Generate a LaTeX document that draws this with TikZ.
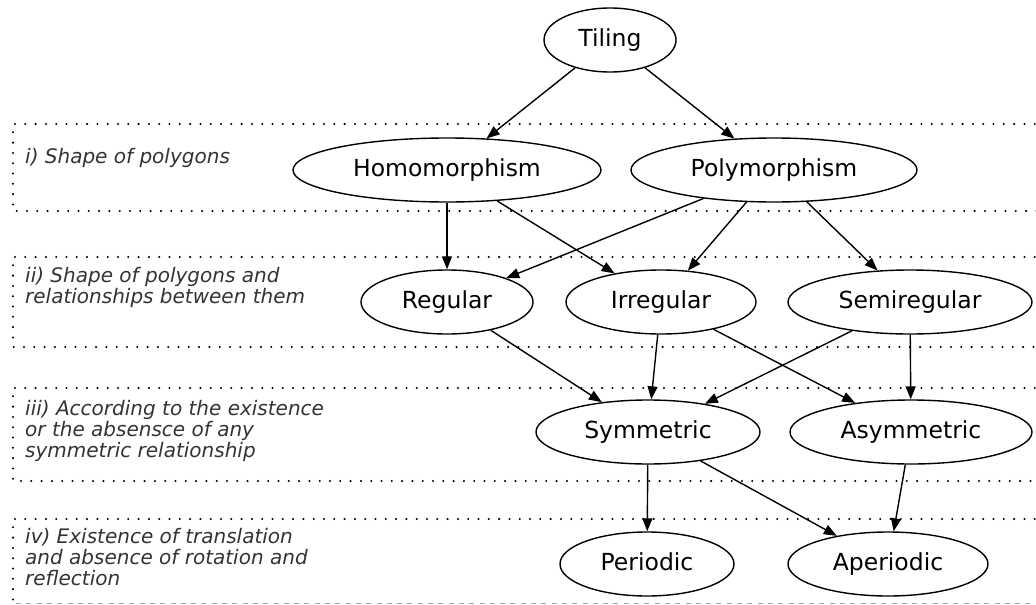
\documentclass[tikz,border=0pt]{standalone}
\usepackage{fontspec}
\setmainfont{DejaVu Sans}
\usetikzlibrary{shapes.geometric,arrows.meta}
\tikzset{
  tnode/.style={ellipse,draw,line width=1.4pt,inner sep=0pt,minimum height=64pt,
                text height=17pt,text depth=5pt,
                font=\fontsize{23.5}{28}\selectfont},
  tedge/.style={line width=1.4pt,-{Triangle[length=13pt,width=10pt]}},
  boxline/.style={line width=2.3pt,line cap=round,dash pattern=on 0pt off 10.3pt},
  boxlabel/.style={anchor=north west,inner sep=0pt,align=left,text=black!80,
                   font=\itshape\fontsize{20}{21}\selectfont}
}
\begin{document}
\begin{tikzpicture}[x=1pt,y=-1pt]
  \useasboundingbox (0,0) rectangle (1036,605);
  \foreach \t/\b in {124/211,257/347,388/481} {
    \draw[boxline] (1045,\t) -- (13,\t) -- (13,\b) -- (1045,\b);
  }
  \draw[boxline] (1045,519) -- (13,519) -- (13,603);
  \draw[gray!70,line width=1pt,dash pattern=on 5pt off 5.3pt] (16,603.5) -- (1045,603.5);
  \node[boxlabel] (l1) at (25,148) {i) Shape of polygons};
  \node[boxlabel] (l2) at (25,267) {ii) Shape of polygons and\\relationships between them};
  \node[boxlabel] (l3) at (25,400) {iii) According to the existence\\or the absensce of any\\symmetric relationship};
  \node[boxlabel] (l4) at (25,528) {iv) Existence of translation\\and absence of rotation and\\reflection};
  \node[tnode,minimum width=132pt] (tiling) at (610,40) {Tiling};
  \node[tnode,minimum width=308pt] (homo) at (447,170) {Homomorphism};
  \node[tnode,minimum width=286pt] (poly) at (774,170) {Polymorphism};
  \node[tnode,minimum width=172pt] (reg) at (447,302) {Regular};
  \node[tnode,minimum width=190pt] (irreg) at (661,302) {Irregular};
  \node[tnode,minimum width=244pt] (semi) at (910,302) {Semiregular};
  \node[tnode,minimum width=224pt] (sym) at (648,432) {Symmetric};
  \node[tnode,minimum width=242pt] (asym) at (911,432) {Asymmetric};
  \node[tnode,minimum width=174pt] (per) at (647,564) {Periodic};
  \node[tnode,minimum width=200pt] (aper) at (888,564) {Aperiodic};
  \draw[tedge] (tiling) -- (homo);
  \draw[tedge] (tiling) -- (poly);
  \draw[tedge] (homo) -- (reg);
  \draw[tedge] (homo) -- (irreg);
  \draw[tedge] (poly) -- (reg);
  \draw[tedge] (poly) -- (irreg);
  \draw[tedge] (poly) -- (semi);
  \draw[tedge] (reg) -- (sym);
  \draw[tedge] (irreg) -- (sym);
  \draw[tedge] (irreg) -- (asym);
  \draw[tedge] (semi) -- (sym);
  \draw[tedge] (semi) -- (asym);
  \draw[tedge] (sym) -- (per);
  \draw[tedge] (sym) -- (aper);
  \draw[tedge] (asym) -- (aper);
\end{tikzpicture}
\end{document}
